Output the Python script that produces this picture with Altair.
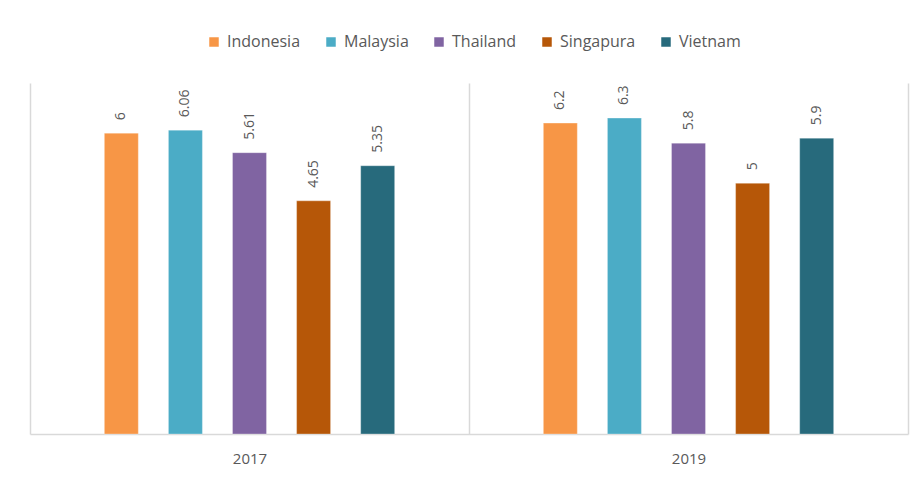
import altair as alt
import pandas as pd

years = ["2017", "2019"]
countries = ["Indonesia", "Malaysia", "Thailand", "Singapura", "Vietnam"]
values_2017 = [6, 6.06, 5.61, 4.65, 5.35]
values_2019 = [6.2, 6.3, 5.8, 5, 5.9]
colors = ["#F79646", "#4BACC6", "#8064A2", "#B65708", "#276A7C"]

rows = []
for y, vals in zip(years, [values_2017, values_2019]):
    for c, v in zip(countries, vals):
        rows.append({"Tahun": y, "Negara": c, "Nilai": v})
df = pd.DataFrame(rows)

# empty slots at both ends of each group give the wide side margins
offset_domain = ["_L"] + countries + ["_R"]

base = alt.Chart(df).encode(
    x=alt.X("Tahun:N", sort=years,
            scale=alt.Scale(paddingInner=0, paddingOuter=0),
            axis=alt.Axis(title=None, labelAngle=0, labelFontSize=15, labelColor="#595959",
                          labelFont="Open Sans", labelPadding=17,
                          domainColor="#d9d9d9", domainWidth=1.5,
                          ticks=False, grid=True, gridColor="#d9d9d9", gridWidth=1.5,
                          tickBand="extent")),
    xOffset=alt.XOffset("Negara:N",
                        scale=alt.Scale(domain=offset_domain, paddingInner=0.47, paddingOuter=0.16)),
    y=alt.Y("Nilai:Q", scale=alt.Scale(domain=[0, 7], nice=False),
            axis=None),
)

bars = base.mark_bar(stroke="white", strokeWidth=0.6, strokeOpacity=0.5).encode(
    color=alt.Color("Negara:N", sort=countries,
                    scale=alt.Scale(domain=countries, range=colors),
                    legend=alt.Legend(title=None, orient="none", direction="horizontal",
                                      legendX=176, legendY=-49,
                                      symbolType="square", symbolSize=90,
                                      symbolStrokeWidth=0,
                                      labelFontSize=16, labelColor="#595959",
                                      labelFont="Open Sans", columnPadding=22,
                                      labelOffset=5))
)

labels = base.mark_text(angle=270, align="left", baseline="middle", dx=13,
                        fontSize=14, color="#595959", font="Open Sans").encode(
    text=alt.Text("Nilai:Q")
)

chart = (bars + labels).properties(
    width=878, height=351,
    padding={"left": 22, "top": 75, "right": 3, "bottom": 35},
    autosize=alt.AutoSizeParams(type="none"),
).configure_view(stroke=None)

chart.save("out.html", embed_options={"renderer": "svg", "actions": False})
